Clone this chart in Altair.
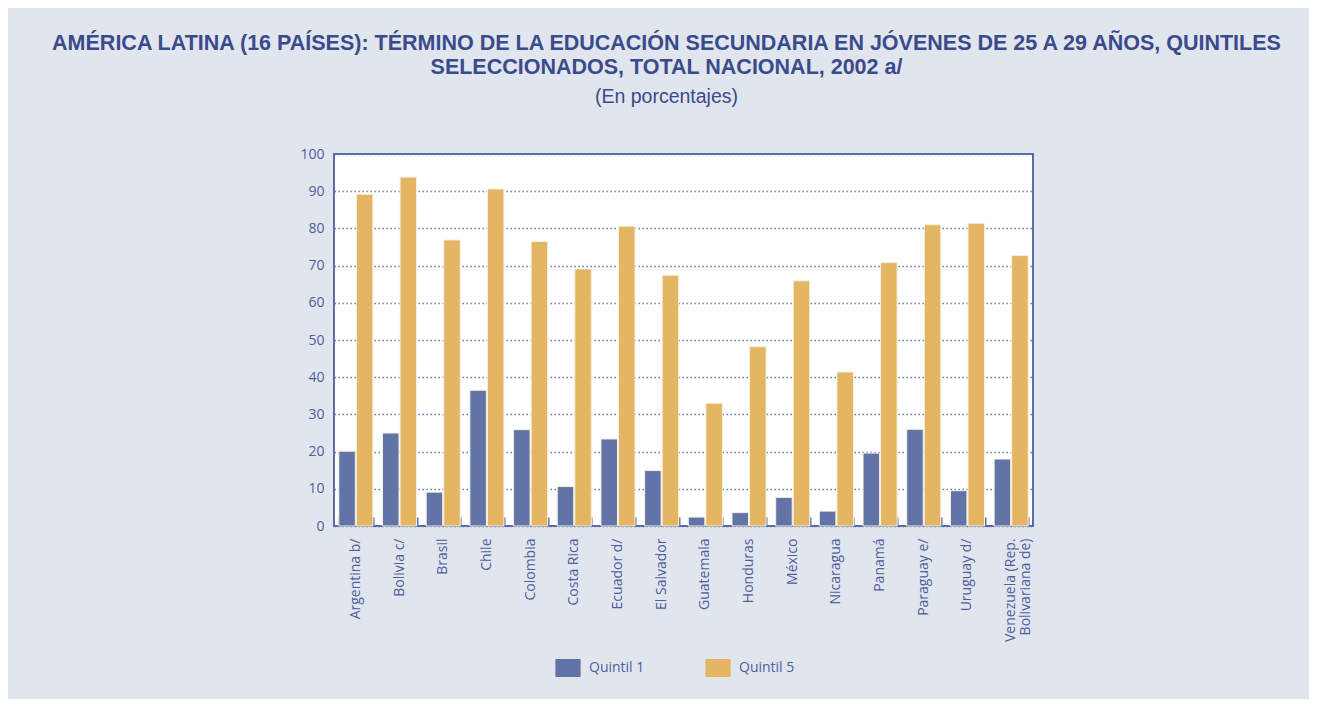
import altair as alt
import pandas as pd

countries = ["Argentina b/", "Bolivia c/", "Brasil", "Chile", "Colombia", "Costa Rica",
             "Ecuador d/", "El Salvador", "Guatemala", "Honduras", "México", "Nicaragua",
             "Panamá", "Paraguay e/", "Uruguay d/", "Venezuela (Rep.\nBolivariana de)"]
quintil_1 = [20.1, 25.0, 9.1, 36.5, 25.9, 10.6, 23.4, 14.9, 2.4, 3.6, 7.7, 4.0, 19.6, 26.0, 9.5, 18.0]
quintil_5 = [89.2, 93.8, 76.9, 90.6, 76.5, 69.1, 80.6, 67.4, 33.0, 48.2, 65.9, 41.4, 70.8, 81.0, 81.4, 72.7]
series = ["Quintil 1", "Quintil 5"]
y_ticks = [0, 10, 20, 30, 40, 50, 60, 70, 80, 90, 100]

rows = []
for c, a, b in zip(countries, quintil_1, quintil_5):
    rows.append({"pais": c, "quintil": series[0], "valor": a})
    rows.append({"pais": c, "quintil": series[1], "valor": b})
df = pd.DataFrame(rows)

BLUE_TXT = "#4f5f9c"
TITLE_C = "#3a4b8b"
FONT = "Open Sans"

base = alt.Chart(df)

bars = base.mark_bar(stroke="#f6f1e4", strokeWidth=1).encode(
    x=alt.X("pais:N", sort=countries,
            scale=alt.Scale(paddingInner=0.22, paddingOuter=0.11),
            axis=alt.Axis(title=None, labelAngle=-90, ticks=False, domain=False,
                          labelPadding=12, labelFont=FONT, labelFontSize=14,
                          labelColor=BLUE_TXT, labelLineHeight=15,
                          labelExpr="split(datum.label, '\\n')")),
    xOffset=alt.XOffset("quintil:N", sort=series, scale=alt.Scale(paddingInner=0.06)),
    y=alt.Y("valor:Q", scale=alt.Scale(domain=[0, 100]),
            axis=alt.Axis(title=None, values=y_ticks, ticks=False, domain=False,
                          labelPadding=10, labelFont=FONT, labelFontSize=14,
                          labelColor=BLUE_TXT, gridColor="#5f70ad", gridWidth=1.4,
                          gridDash=[1.4, 2.6])),
    color=alt.Color("quintil:N", sort=series,
                    scale=alt.Scale(domain=series, range=["#6273a6", "#e4b664"]),
                    legend=alt.Legend(title=None, orient="none", direction="horizontal",
                                      legendX=225, legendY=505,
                                      symbolType="M-1.4,-1L1.4,-1L1.4,1L-1.4,1Z",
                                      symbolSize=324, symbolStrokeWidth=0,
                                      symbolOpacity=1,
                                      labelFont=FONT, labelFontSize=14,
                                      labelColor=BLUE_TXT, labelOffset=12,
                                      columnPadding=60)),
)

ticks = base.mark_point(opacity=0).encode(
    x=alt.X("pais:N", sort=countries,
            axis=alt.Axis(title=None, orient="bottom", labels=False, domain=False,
                          grid=False, ticks=True, tickBand="extent", tickSize=9,
                          tickWidth=2, tickColor="#5b6ba3", offset=-9)),
)

chart = alt.layer(bars, ticks).resolve_axis(x="independent").properties(
    width=699, height=372,
    autosize=alt.AutoSizeParams(type="none"),
    padding={"left": 326, "top": 146, "right": 276, "bottom": 173},
    background="#e1e5ee",
    title=alt.Title(
        text=["AMÉRICA LATINA (16 PAÍSES): TÉRMINO DE LA EDUCACIÓN SECUNDARIA EN JÓVENES DE 25 A 29 AÑOS, QUINTILES",
              "SELECCIONADOS, TOTAL NACIONAL, 2002 a/"],
        subtitle="(En porcentajes)",
        anchor="middle", frame="bounds",
        font="Liberation Sans", fontSize=21.5, fontWeight="bold", color=TITLE_C,
        lineHeight=24,
        subtitleFont="Liberation Sans", subtitleFontSize=19.5, subtitleColor=TITLE_C,
        subtitlePadding=9, offset=41),
).configure_view(
    stroke="#5b6ba3", strokeWidth=2, fill="white"
)

chart.save("out.html", embed_options={"renderer": "svg", "actions": False})
